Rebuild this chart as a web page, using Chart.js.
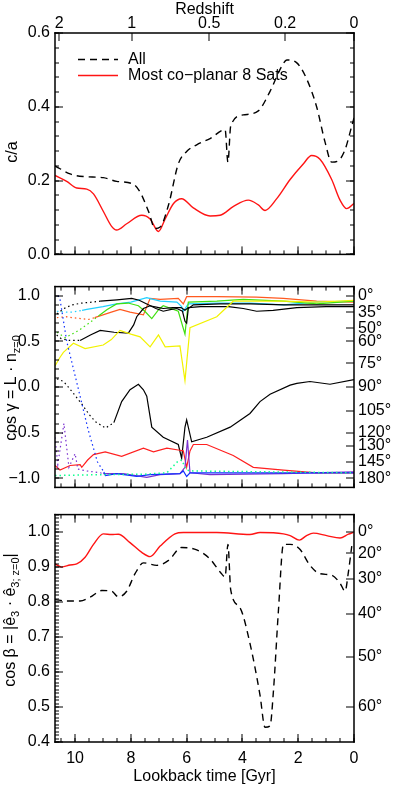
<!DOCTYPE html>
<html>
<head>
<meta charset="utf-8">
<script src="https://cdn.jsdelivr.net/npm/chart.js@4.4.1/dist/chart.umd.min.js"></script>
<style>
  html, body { margin: 0; padding: 0; background: #fff; }
  #wrap { position: relative; width: 393px; height: 786px; }
  .p { position: absolute; left: 0; width: 393px; }
</style>
</head>
<body>
<div id="wrap">
  <div class="p" style="top:0;height:269px"><canvas id="c1"></canvas></div>
  <div class="p" style="top:262px;height:250px"><canvas id="c2"></canvas></div>
  <div class="p" style="top:500px;height:286px"><canvas id="c3"></canvas></div>
</div>
<script>
// Lookback time axis (Gyr), reversed: old on the left, today on the right
const T_MAX = 10.72;
const zTickT = [10.57, 7.97, 5.19, 2.47, 0];
const zTickLabels = ['2', '1', '0.5', '0.2', '0'];

// ---- top panel: c/a ----
const caAll = [[10.72,0.24],[10.18,0.218],[9.70,0.211],[8.99,0.208],[8.51,0.198],[7.91,0.19],[7.67,0.169],
  [7.37,0.117],[7.13,0.07],[6.95,0.074],[6.65,0.134],[6.30,0.245],[6.0,0.279],[5.64,0.297],[5.16,0.314],
  [4.62,0.338],[4.52,0.25],[4.42,0.348],[3.97,0.378],[3.43,0.389],[3.01,0.442],[2.59,0.51],[2.41,0.527],
  [2.05,0.519],[1.70,0.476],[1.34,0.40],[1.04,0.305],[0.80,0.25],[0.56,0.254],[0.32,0.284],[0.08,0.348],[0,0.37]];
const caPlane = [[10.72,0.214],[10.30,0.198],[9.94,0.18],[9.58,0.177],[9.34,0.164],[8.99,0.117],[8.69,0.076],
  [8.51,0.066],[8.15,0.083],[7.61,0.106],[7.31,0.096],[7.01,0.062],[6.77,0.096],[6.47,0.138],[6.18,0.151],
  [5.76,0.126],[5.16,0.104],[4.80,0.106],[4.32,0.13],[3.79,0.147],[3.43,0.134],[3.19,0.119],[2.77,0.151],
  [2.29,0.203],[1.82,0.245],[1.52,0.268],[1.22,0.258],[0.80,0.203],[0.50,0.147],[0.26,0.124],[0,0.138]];
const caTicks = [0, 0.2, 0.4, 0.6];

// ---- middle panel: cos gamma ----
const cgBlackA = [[10.65,0.80],[10.40,0.86],[10.11,0.90],[9.75,0.92],[9.39,0.93],[9.10,0.94],[8.5,0.955],[7.97,0.97],
  [7.70,0.95],[7.43,0.91],[7.10,0.86],[6.84,0.83],[6.55,0.85],[6.35,0.86],[6.15,0.83],[6.06,0.72],[6.00,0.70],
  [5.94,0.86],[5.76,0.90],[4.8,0.91],[3.7,0.91],[2.5,0.90],[1.3,0.90],[0,0.90]];
const cgBlackB = [[10.66,0.57],[10.50,0.53],[10.2,0.51],[9.82,0.51],[9.45,0.57],[9.10,0.62],[8.6,0.60],[8.09,0.59],
  [7.90,0.68],[7.79,0.77],[7.55,0.86],[7.31,0.89],[7.0,0.87],[6.84,0.86],[6.5,0.87],[6.2,0.87],[6.06,0.84],
  [5.94,0.87],[5.5,0.88],[4.5,0.88],[3.97,0.86],[3.49,0.83],[2.9,0.84],[2.05,0.87],[1.0,0.88],[0,0.88]];
const cgCyan = [[10.65,0.83],[10.30,0.82],[10.11,0.82],[9.75,0.84],[9.58,0.85],[9.0,0.88],[8.51,0.91],[8.0,0.93],
  [7.43,0.98],[7.2,0.96],[6.95,0.94],[6.35,0.93],[6.18,0.88],[6.12,0.83],[5.94,0.91],[4.92,0.92],[3.73,0.92],
  [2.53,0.90],[1.34,0.93],[0,0.94]];
const cgOrange = [[10.65,0.76],[10.30,0.77],[10.11,0.76],[9.80,0.75],[9.51,0.74],[9.30,0.76],[9.0,0.79],[8.70,0.82],
  [8.39,0.85],[8.03,0.82],[7.55,0.79],[7.31,0.97],[6.95,0.96],[6.30,0.97],[6.12,0.91],[6.00,0.99],[4.92,0.99],
  [3.5,0.985],[2.53,0.97],[1.34,0.94],[0,0.93]];
const cgGreen = [[10.65,0.60],[10.35,0.54],[9.87,0.62],[9.50,0.70],[9.15,0.78],[8.85,0.85],[8.51,0.91],[8.1,0.92],
  [7.73,0.89],[7.50,0.83],[7.25,0.75],[7.0,0.85],[6.84,0.89],[6.30,0.83],[6.06,0.58],[5.94,0.93],[4.92,0.94],
  [3.97,0.96],[2.53,0.94],[1.34,0.91],[0,0.94]];
const cgYellow = [[10.72,0.23],[10.55,0.32],[10.42,0.38],[10.06,0.48],[9.64,0.42],[8.99,0.46],[8.70,0.52],[8.39,0.62],
  [8.0,0.58],[7.67,0.55],[7.31,0.44],[7.01,0.57],[6.77,0.44],[6.24,0.45],[6.06,0.07],[5.88,0.65],[4.92,0.77],
  [4.33,0.94],[3.73,0.94],[2.53,0.94],[1.34,0.93],[0,0.95]];
const cgBlackC = [[10.65,0.09],[10.41,0.06],[10.11,-0.05],[9.75,-0.19],[9.50,-0.30],[9.27,-0.38],[8.91,-0.45],
  [8.61,-0.39],[8.33,-0.16],[8.03,-0.03],[7.73,0.03],[7.55,-0.03],[7.43,-0.10],[7.25,-0.44],[6.84,-0.55],
  [6.30,-0.63],[6.18,-0.78],[6.06,-0.44],[6.0,-0.36],[5.82,-0.60],[5.28,-0.55],[4.44,-0.44],[3.73,-0.29],
  [3.37,-0.16],[3.01,-0.08],[2.29,0.02],[2.05,0.04],[1.58,0.06],[0.86,0.03],[0,0.08]];
const cgRed = [[10.72,-0.86],[10.54,-0.91],[10.18,-0.86],[9.82,-0.85],[9.76,-0.88],[9.55,-0.80],[9.34,-0.74],
  [8.92,-0.71],[8.33,-0.76],[7.55,-0.67],[7.19,-0.71],[6.71,-0.67],[6.30,-0.69],[6.12,-0.70],[6.0,-0.88],
  [5.88,-0.70],[5.76,-0.63],[5.28,-0.63],[4.33,-0.75],[3.61,-0.88],[2.53,-0.91],[1.34,-0.94],[0,-0.94]];
const cgBlue = [[10.62,1.0],[10.55,0.98],[10.30,0.50],[9.90,0.0],[9.53,-0.47],[9.20,-0.82],[8.97,-0.93],[8.91,-0.97],
  [8.51,-0.95],[7.79,-0.98],[7.31,-0.96],[6.24,-0.95],[6.12,-0.92],[6.00,-0.98],[5.88,-0.94],[3.73,-0.94],[0,-0.94]];
const cgPurple = [[10.72,-0.55],[10.62,-0.85],[10.40,-0.40],[10.22,-0.88],[10.0,-0.73],[9.90,-0.90],[9.58,-0.92],
  [9.10,-0.94],[8.99,-0.95],[8.27,-0.95],[7.43,-0.99],[6.95,-0.96],[6.24,-0.95],[6.06,-0.88],[5.97,-0.58],
  [5.88,-0.94],[5.16,-0.96],[2.53,-0.95],[0,-0.93]];
const cgSpring = [[10.72,-0.97],[9.0,-0.96],[7.5,-0.955],[6.71,-0.94],[6.30,-0.81],[6.18,-0.80],[6.00,-0.91],
  [5.76,-0.92],[3.0,-0.93],[0,-0.94]];
const cgTicks = [-1, -0.5, 0, 0.5, 1];
const gammaAngles = [0, 35, 50, 60, 75, 90, 105, 120, 130, 145, 180];

// ---- bottom panel: cos beta ----
const cbPlane = [[10.72,0.909],[10.48,0.90],[10.18,0.906],[9.94,0.909],[9.64,0.928],[9.34,0.965],[8.99,0.995],
  [8.69,0.993],[8.45,0.994],[8.03,0.97],[7.61,0.942],[7.31,0.93],[6.95,0.96],[6.42,0.995],[6.12,0.999],
  [4.92,0.999],[3.73,0.993],[3.37,0.999],[2.53,0.995],[2.29,0.99],[1.96,0.977],[1.70,0.99],[1.46,0.997],
  [0.98,0.99],[0.50,0.983],[0.20,0.994],[0.02,0.999]];
const cbAll = [[10.72,0.807],[10.30,0.803],[9.82,0.803],[9.46,0.814],[9.04,0.833],[8.69,0.831],[8.45,0.815],
  [8.15,0.831],[7.85,0.881],[7.55,0.912],[7.07,0.905],[6.65,0.919],[6.18,0.956],[5.64,0.949],[5.16,0.923],
  [4.80,0.886],[4.62,0.872],[4.52,0.965],[4.42,0.835],[4.09,0.784],[3.73,0.682],[3.37,0.534],[3.19,0.442],
  [3.01,0.446],[2.89,0.544],[2.71,0.775],[2.53,0.965],[2.29,0.965],[1.94,0.951],[1.58,0.905],[1.22,0.881],
  [0.80,0.877],[0.50,0.854],[0.32,0.831],[0.20,0.886],[0.08,0.96]];
const cbTicks = [0.4, 0.5, 0.6, 0.7, 0.8, 0.9, 1.0];
const betaAngles = [0, 20, 30, 40, 50, 60];

const FONT = "'Liberation Sans', Arial, Helvetica, sans-serif";
Chart.defaults.font.family = FONT;
Chart.defaults.font.size = 16;
Chart.defaults.color = '#000';
Chart.defaults.animation = false;
Chart.defaults.events = [];
Chart.defaults.plugins.legend.display = false;
Chart.defaults.plugins.tooltip.enabled = false;

const steps = (a, b, s) => { const r = []; for (let v = a; v <= b + 1e-9; v += s) r.push(+v.toFixed(4)); return r; };
const tMajor = steps(0, 10, 2), tMinor = steps(0, 10.5, 0.5);
const deg = a => Math.cos(a * Math.PI / 180);
const minus = s => s.replace('-', '\u2212');

function line(label, data, color, opts) {
  return Object.assign({
    label, data: data.map(([x, y]) => ({ x, y })),
    borderColor: color, borderWidth: 1.2, pointRadius: 0, fill: false, tension: 0,
    xAxisID: 'x', yAxisID: 'y',
  }, opts || {});
}
// dotted for the early part (t >= cut), solid afterwards
function dotFrom(cut) {
  return { borderCapStyle: 'butt', segment: { borderDash: c => c.p1.parsed.x >= cut - 1e-6 ? [1.5, 3] : undefined } };
}

// box + inward ticks (IDL style), rotated y title with subscripts, optional legend
function deco(cfg) {
  return {
    id: 'deco',
    afterDraw(chart) {
      const ctx = chart.ctx;
      const a = chart.chartArea;
      const L = a.left, R = a.right, T = a.top, B = a.bottom;
      const sx = chart.scales.x, sy = chart.scales.y;
      ctx.save();
      ctx.setLineDash([]);
      ctx.globalAlpha = 1;
      ctx.fillStyle = '#000';
      const mark = (edge, vals, len) => {
        vals.forEach(v => {
          if (edge === 'top' || edge === 'bottom') {
            const px = Math.round(sx.getPixelForValue(v));
            if (edge === 'bottom') ctx.fillRect(px - 0.5, B - len, 1, len);
            else ctx.fillRect(px - 0.5, T, 1, len);
          } else {
            const py = Math.round(sy.getPixelForValue(v));
            if (edge === 'left') ctx.fillRect(L, py - 0.5, len, 1);
            else ctx.fillRect(R - len, py - 0.5, len, 1);
          }
        });
      };
      ['top', 'bottom', 'left', 'right'].forEach(e => {
        const t = cfg.ticks[e];
        if (!t) return;
        if (t.minor) mark(e, t.minor, 4);
        if (t.major) mark(e, t.major, 8);
      });
      // frame
      ctx.fillRect(L - 0.75, T - 0.75, R - L + 1.5, 1.5);
      ctx.fillRect(L - 0.75, B - 0.75, R - L + 1.5, 1.5);
      ctx.fillRect(L - 0.75, T - 0.75, 1.5, B - T + 1.5);
      ctx.fillRect(R - 0.75, T - 0.75, 1.5, B - T + 1.5);

      // y title
      ctx.save();
      ctx.translate(cfg.title.x, cfg.title.y);
      ctx.rotate(-Math.PI / 2);
      ctx.textBaseline = 'alphabetic';
      const parts = cfg.title.parts;
      const widths = parts.map(p => { ctx.font = p.size + 'px ' + FONT; return ctx.measureText(p.t).width; });
      let cx = -widths.reduce((s, w) => s + w, 0) / 2;
      parts.forEach((p, i) => {
        ctx.font = p.size + 'px ' + FONT;
        ctx.fillText(p.t, cx, p.dy || 0);
        cx += widths[i];
      });
      ctx.restore();

      if (cfg.legend) {
        chart.data.datasets.forEach((d, i) => {
          const y = 59.5 + i * 16;
          ctx.save();
          ctx.strokeStyle = d.borderColor;
          ctx.lineWidth = d.borderWidth;
          ctx.setLineDash(d.borderDash || []);
          ctx.beginPath(); ctx.moveTo(78, y); ctx.lineTo(118, y); ctx.stroke();
          ctx.setLineDash([]);
          ctx.fillStyle = '#000';
          ctx.font = '16px ' + FONT;
          ctx.textBaseline = 'middle';
          ctx.fillText(d.label, 128, y);
          ctx.restore();
        });
      }
      ctx.restore();
    }
  };
}

const hidden = () => ({ grid: { display: false, drawTicks: false }, border: { display: false } });
const xHidden = { type: 'linear', min: 0, max: T_MAX, reverse: true, display: false };
const setTicks = vals => s => { s.ticks = vals.map(v => ({ value: v })); };

// ---- panel 1 ----
new Chart(document.getElementById('c1'), {
  type: 'line',
  data: { datasets: [
    line('All', caAll, '#000', { borderWidth: 1.4, borderDash: [7, 5], cubicInterpolationMode: 'monotone' }),
    line('Most co\u2212planar 8 Sats', caPlane, '#ff1414', { borderWidth: 1.4, cubicInterpolationMode: 'monotone' }),
  ] },
  options: {
    responsive: true, maintainAspectRatio: false,
    layout: { padding: { top: 0, bottom: 1, left: 0, right: 39 } },
    scales: {
      x: xHidden,
      xt: { type: 'linear', position: 'top', min: 0, max: T_MAX, reverse: true, ...hidden(),
        afterBuildTicks: setTicks(zTickT),
        ticks: { autoSkip: false, maxRotation: 0, padding: 0, callback: (v, i) => zTickLabels[i] },
        title: { display: true, text: 'Redshift', padding: 0 },
        afterFit: s => { s.height = 33; } },
      y: { position: 'left', min: 0, max: 0.6, ...hidden(),
        afterBuildTicks: setTicks(caTicks),
        ticks: { padding: 5, callback: v => v.toFixed(1) },
        afterFit: s => { s.width = 55; } },
    },
  },
  plugins: [deco({
    ticks: { top: { major: zTickT }, bottom: { major: tMajor, minor: tMinor },
             left: { major: caTicks, minor: steps(0, 0.6, 0.04) }, right: { major: caTicks, minor: steps(0, 0.6, 0.04) } },
    title: { x: 17, y: 152, parts: [{ t: 'c/a', size: 16 }] },
    legend: true,
  })],
});

// ---- panel 2 ----
new Chart(document.getElementById('c2'), {
  type: 'line',
  data: { datasets: [
    line('s1', cgSpring, '#10ff90', { borderWidth: 1.5, borderDash: [1.5, 3] }),
    line('s2', cgBlue, '#1030ff', dotFrom(8.97)),
    line('s3', cgPurple, '#7a30d0', dotFrom(8.99)),
    line('s4', cgRed, '#ff2020'),
    line('s5', cgBlackC, '#000', dotFrom(8.61)),
    line('s6', cgYellow, '#f2f200'),
    line('s7', cgBlackB, '#000', dotFrom(9.82)),
    line('s8', cgBlackA, '#000', dotFrom(9.10)),
    line('s9', cgGreen, '#40e010', dotFrom(9.15)),
    line('s10', cgCyan, '#20d0ff', dotFrom(9.75)),
    line('s11', cgOrange, '#ff5a20', dotFrom(9.30)),
  ] },
  options: {
    responsive: true, maintainAspectRatio: false,
    layout: { padding: { top: 6, bottom: 6, left: 0, right: 0 } },
    scales: {
      x: xHidden,
      y: { position: 'left', min: -1.1, max: 1.1, ...hidden(),
        afterBuildTicks: setTicks(cgTicks),
        ticks: { padding: 15, callback: v => minus(v.toFixed(1)) },
        afterFit: s => { s.width = 55; } },
      yr: { position: 'right', min: -1.1, max: 1.1, ...hidden(),
        afterBuildTicks: setTicks(gammaAngles.map(deg)),
        ticks: { padding: 4, autoSkip: false, callback: (v, i) => gammaAngles[i] + '\u00b0' },
        afterFit: s => { s.width = 39; } },
    },
  },
  plugins: [deco({
    ticks: { top: { major: tMajor, minor: tMinor }, bottom: { major: tMajor, minor: tMinor },
             left: { major: cgTicks, minor: steps(-1, 1, 0.1) }, right: { major: gammaAngles.map(deg) } },
    title: { x: 16, y: 126, parts: [{ t: 'cos \u03b3 = L \u00b7 n', size: 16 }, { t: 'z=0', size: 11, dy: 4 }] },
  })],
});

// ---- panel 3 ----
new Chart(document.getElementById('c3'), {
  type: 'line',
  data: { datasets: [
    line('All', cbAll, '#000', { borderWidth: 1.4, borderDash: [7, 5], cubicInterpolationMode: 'monotone' }),
    line('Most co-planar 8 Sats', cbPlane, '#ff1414', { borderWidth: 1.4, cubicInterpolationMode: 'monotone' }),
  ] },
  options: {
    responsive: true, maintainAspectRatio: false,
    layout: { padding: { top: 6, bottom: 0, left: 0, right: 0 } },
    scales: {
      x: { type: 'linear', position: 'bottom', min: 0, max: T_MAX, reverse: true, ...hidden(),
        afterBuildTicks: setTicks(tMajor),
        ticks: { autoSkip: false, maxRotation: 0, padding: 7, callback: v => String(v) },
        title: { display: true, text: 'Lookback time [Gyr]', padding: 0 },
        afterFit: s => { s.height = 44; } },
      y: { position: 'left', min: 0.4, max: 1.05, ...hidden(),
        afterBuildTicks: setTicks(cbTicks),
        ticks: { padding: 5, callback: v => v.toFixed(1) },
        afterFit: s => { s.width = 55; } },
      yr: { position: 'right', min: 0.4, max: 1.05, ...hidden(),
        afterBuildTicks: setTicks(betaAngles.map(deg)),
        ticks: { padding: 4, autoSkip: false, callback: (v, i) => betaAngles[i] + '\u00b0' },
        afterFit: s => { s.width = 39; } },
    },
  },
  plugins: [deco({
    ticks: { top: { major: tMajor, minor: tMinor }, bottom: { major: tMajor, minor: tMinor },
             left: { major: cbTicks, minor: steps(0.4, 1.05, 0.01) }, right: { major: betaAngles.map(deg) } },
    title: { x: 15, y: 120, parts: [{ t: 'cos \u03b2 = |\u00ea', size: 16 }, { t: '3', size: 11, dy: 4 },
      { t: ' \u00b7 \u00ea', size: 16 }, { t: '3; z=0', size: 11, dy: 4 }, { t: '|', size: 16 }] },
  })],
});
</script>
</body>
</html>
